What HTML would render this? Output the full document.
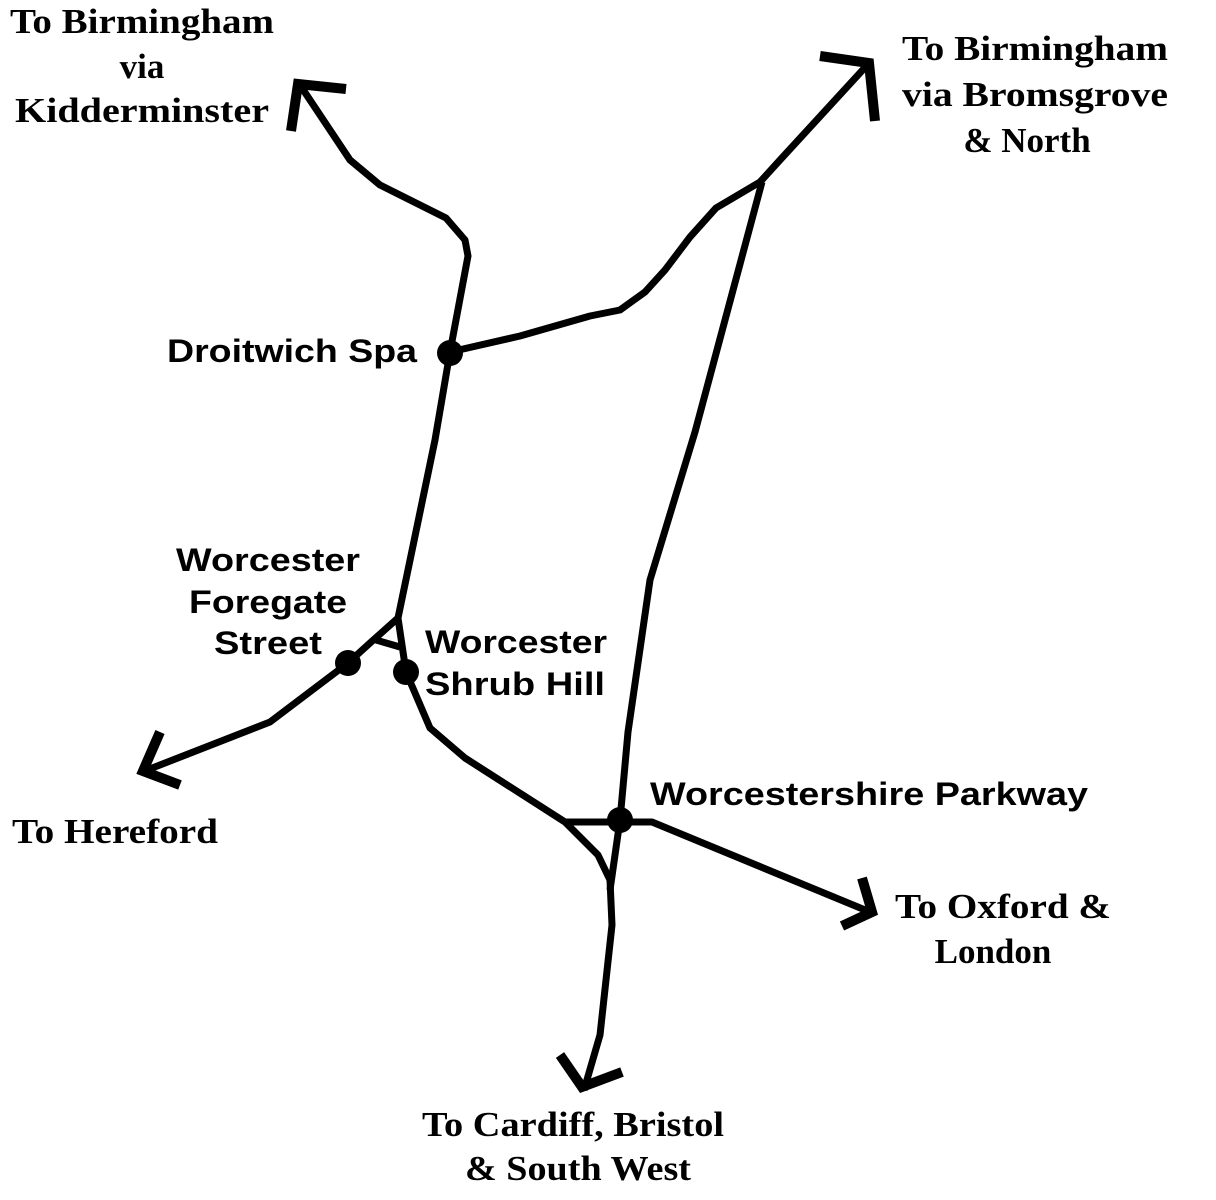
<!DOCTYPE html>
<html><head><meta charset="utf-8"><style>
html,body{margin:0;padding:0;background:#fff;}
svg{display:block}
.s{font-family:"Liberation Serif",serif;font-weight:bold;font-size:35px;fill:#000}
.a{font-family:"Liberation Sans",sans-serif;font-weight:bold;font-size:32px;fill:#000}
</style></head><body>
<svg width="1216" height="1200" viewBox="0 0 1216 1200" xmlns="http://www.w3.org/2000/svg">
<g fill="none" stroke="#000" stroke-width="7" stroke-linejoin="round" stroke-linecap="butt">
<polyline points="298,82 350,160 380,185 446,218 465,240 468,256 450,352 435,440 398,618 406,672 430,728 465,758 565,822 598,855 610,880 612,925 600,1035 584,1090"/>
<polyline points="398,618 370,643 348,663 270,722 142,772"/>
<polyline points="376,640 400,647"/>
<polyline points="450,352 520,336 590,316 620,310 645,292 665,270 690,237 716,208 760,182 780,160 870,62"/>
<polyline points="762,182 695,432 650,580 628,732 620,820 610,890"/>
<polyline points="565,822 652,822 870,912"/>
</g>
<g fill="none" stroke="#000" stroke-width="10" stroke-linejoin="miter">
<polyline points="291,131 298,84 346,89"/>
<polyline points="820,56 869,63 875,121"/>
<polyline points="160,732 143,771 180,785"/>
<polyline points="862,878 872,912 842,926"/>
<polyline points="560,1055 582,1087 622,1072"/>
</g>
<g fill="#000">
<circle cx="450" cy="353" r="13"/>
<circle cx="348" cy="663" r="13"/>
<circle cx="406" cy="672" r="13"/>
<circle cx="620" cy="820" r="13"/>
</g>
<g class="s" text-anchor="middle">
<text x="142" y="33" textLength="264" lengthAdjust="spacingAndGlyphs">To Birmingham</text>
<text x="142" y="78">via</text>
<text x="142" y="122" textLength="254" lengthAdjust="spacingAndGlyphs">Kidderminster</text>
<text x="1035" y="60" textLength="266" lengthAdjust="spacingAndGlyphs">To Birmingham</text>
<text x="1035" y="106" textLength="266" lengthAdjust="spacingAndGlyphs">via Bromsgrove</text>
<text x="1027" y="152">&amp; North</text>
<text x="115" y="843" textLength="206" lengthAdjust="spacingAndGlyphs">To Hereford</text>
<text x="1003" y="918" textLength="216" lengthAdjust="spacingAndGlyphs">To Oxford &amp;</text>
<text x="993" y="963">London</text>
<text x="573" y="1136" textLength="302" lengthAdjust="spacingAndGlyphs">To Cardiff, Bristol</text>
<text x="578" y="1180" textLength="226" lengthAdjust="spacingAndGlyphs">&amp; South West</text>
</g>
<g class="a">
<text x="167" y="362" textLength="250" lengthAdjust="spacingAndGlyphs">Droitwich Spa</text>
<text x="268" y="571" text-anchor="middle" textLength="184" lengthAdjust="spacingAndGlyphs">Worcester</text>
<text x="268" y="613" text-anchor="middle" textLength="158" lengthAdjust="spacingAndGlyphs">Foregate</text>
<text x="268" y="654" text-anchor="middle" textLength="108" lengthAdjust="spacingAndGlyphs">Street</text>
<text x="425" y="653" textLength="182" lengthAdjust="spacingAndGlyphs">Worcester</text>
<text x="425" y="695" textLength="180" lengthAdjust="spacingAndGlyphs">Shrub Hill</text>
<text x="650" y="805" textLength="438" lengthAdjust="spacingAndGlyphs">Worcestershire Parkway</text>
</g>
</svg>
</body></html>
